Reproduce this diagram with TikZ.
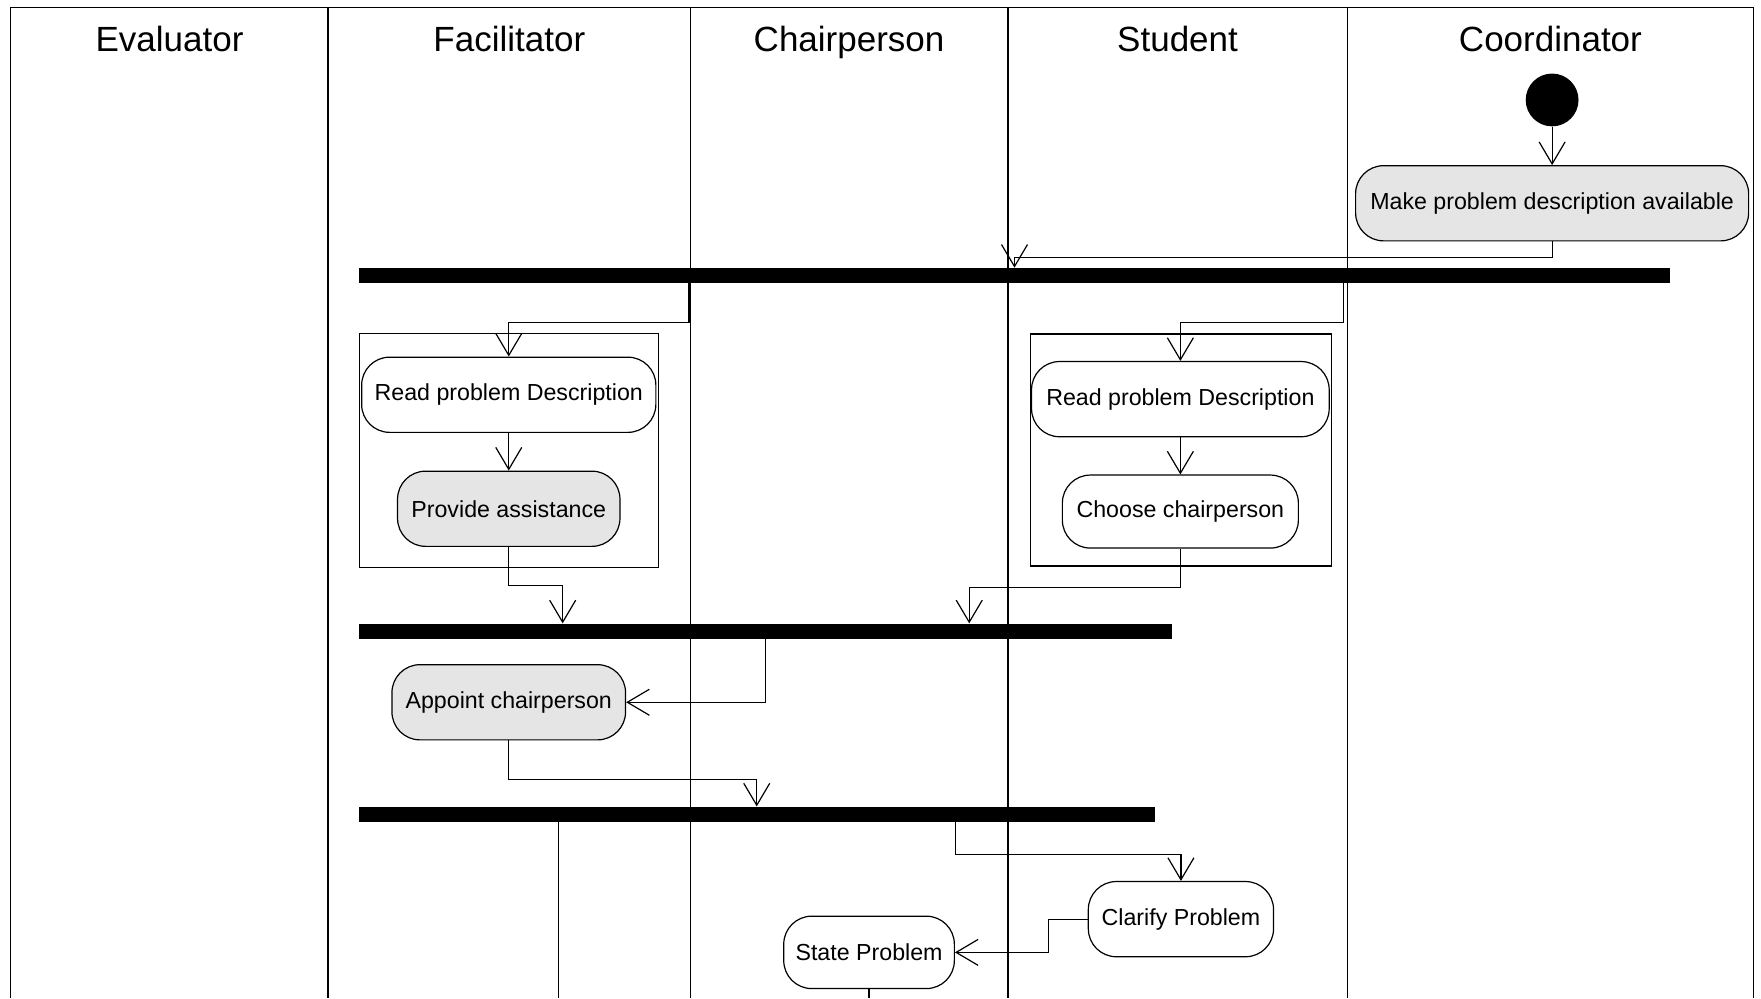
\documentclass[tikz,border=0pt]{standalone}
\usepackage{fontspec}
\setmainfont{Liberation Sans}
\usetikzlibrary{arrows.meta}

\begin{document}
\begin{tikzpicture}[x=0.5615pt, y=-0.5615pt,
  lane/.style={line width=0.6pt},
  head/.style={anchor=base, font=\fontsize{17.5}{20}\selectfont},
  act/.style={draw, line width=0.6pt, rounded corners=14pt, inner sep=0pt,
    minimum height=37.6pt, font=\fontsize{11.6}{14}\selectfont},
  actg/.style={act, fill=black!10},
  bar/.style={fill=black, inner sep=0pt, minimum height=7.4pt},
  flow/.style={line width=0.6pt, -{Straight Barb[length=11pt,width=13pt]}}]
\useasboundingbox (0,0) rectangle (1568,889);
% swimlanes
\draw[lane] (9.5,889) -- (9.5,6.5) -- (1561,6.5) -- (1561,889);
\foreach \x in {292,615,897.5,1200}
  \draw[lane] (\x,6.5) -- (\x,889);
\foreach \n/\x in {Evaluator/151,Facilitator/453.5,Chairperson/756,Student/1048.5,Coordinator/1380.5}
  \node[head] (h\n) at (\x,46) {\n};
% coordinator
\node[circle, fill=black, minimum size=26.4pt, inner sep=0pt] (start) at (1382,89) {};
\node[actg, minimum width=196.5pt] (make) at (1382,181) {Make problem description available};
\node[bar, minimum width=655.5pt] (bar1) at (903.3,245.3) {};
% the two parallel groups
\draw[lane] (320,297) rectangle (586.4,505);
\draw[lane] (917.7,297.4) rectangle (1185.7,504);
\node[act, minimum width=147.1pt] (read1) at (453,351.5) {Read problem Description};
\node[actg, minimum width=111.2pt] (assist) at (453,453) {Provide assistance};
\node[act, minimum width=148.8pt] (read2) at (1051,355.4) {Read problem Description};
\node[act, minimum width=118pt, minimum height=36.5pt] (choose) at (1051,455.5) {Choose chairperson};
\node[bar, minimum width=406.6pt] (bar2) at (681.5,562) {};
\node[actg, minimum width=116.8pt] (appoint) at (453,625.3) {Appoint chairperson};
\node[bar, minimum width=398.2pt] (bar3) at (673.8,725) {};
\node[act, minimum width=92.6pt] (clarify) at (1051.5,818.4) {Clarify Problem};
\node[act, minimum width=85.3pt, minimum height=36.2pt] (state) at (773.8,848) {State Problem};
% turning points
\coordinate (f1) at (613.5,287);
\coordinate (f2) at (1196,287);
\coordinate (j1) at (501,521.5);
\coordinate (j2) at (863,523);
\coordinate (f3) at (851,760.5);
\coordinate (e1) at (497,889);
% flows
\draw[flow] (start) -- (make);
\draw[flow] (make.south) -- ++(0,14.5) -| (bar1.north);
\draw[flow] (bar1.south -| f1) -- (f1) -| (read1.north);
\draw[flow] (read1) -- (assist);
\draw[flow] (bar1.south -| f2) -- (f2) -| (read2.north);
\draw[flow] (read2) -- (choose);
\draw[flow] (assist.south) |- (j1) -- (bar2.north -| j1);
\draw[flow] (choose.south) |- (j2) -- (bar2.north -| j2);
\draw[flow] (bar2.south) |- (appoint.east);
\draw[flow] (appoint.south) -- ++(0,35) -| (bar3.north);
\draw[lane] (bar3.south -| e1) -- (e1);
\draw[flow] (bar3.south -| f3) -- (f3) -| (clarify.north);
\draw[flow] (clarify.west) -- ++(-35,0) |- (state.east);
\draw[lane] (state.south) -- (state.south |- e1);
\end{tikzpicture}
\end{document}
